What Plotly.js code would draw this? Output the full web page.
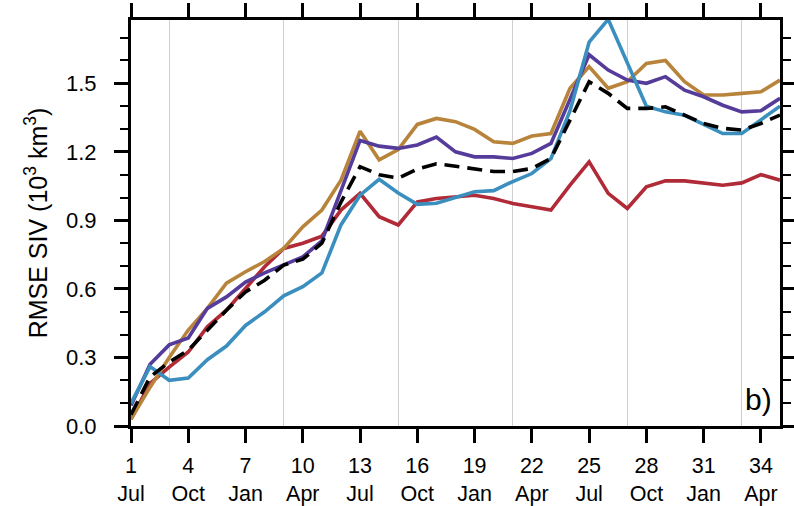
<!DOCTYPE html>
<html>
<head>
<meta charset="utf-8">
<script src="https://cdn.plot.ly/plotly-3.0.1.min.js"></script>
<style>html,body{margin:0;padding:0;background:#fff;}#chart{width:794px;height:506px;}</style>
</head>
<body>
<div id="chart"></div>
<script>
// Lead month (1 = July start)
const leadMonth = [1,2,3,4,5,6,7,8,9,10,11,12,13,14,15,16,17,18,19,20,21,22,23,24,25,26,27,28,29,30,31,32,33,34,35];
const tickValues = [1,4,7,10,13,16,19,22,25,28,31,34];
const tickMonths = ["Jul","Oct","Jan","Apr","Jul","Oct","Jan","Apr","Jul","Oct","Jan","Apr"];
const seasonGrid = [3,9,15,21,27,33];

const redSeries = [0.03,0.186,0.258,0.324,0.434,0.507,0.602,0.697,0.777,0.80,0.831,0.945,1.018,0.916,0.88,0.981,0.996,1.003,1.01,0.996,0.974,0.96,0.945,1.054,1.156,1.018,0.952,1.047,1.073,1.073,1.064,1.054,1.064,1.10,1.076];
const brownSeries = [0.03,0.17,0.30,0.42,0.515,0.625,0.675,0.72,0.777,0.872,0.945,1.076,1.29,1.165,1.21,1.32,1.346,1.332,1.298,1.244,1.237,1.269,1.28,1.478,1.573,1.478,1.507,1.587,1.60,1.507,1.449,1.449,1.456,1.463,1.514];
const purpleSeries = [0.09,0.27,0.355,0.385,0.515,0.565,0.63,0.67,0.705,0.74,0.81,1.025,1.25,1.225,1.215,1.23,1.265,1.20,1.178,1.178,1.171,1.193,1.237,1.43,1.625,1.558,1.514,1.50,1.529,1.47,1.441,1.404,1.375,1.38,1.434];
const blueSeries = [0.10,0.26,0.20,0.21,0.29,0.35,0.44,0.50,0.57,0.61,0.67,0.88,1.01,1.08,1.02,0.97,0.975,1.00,1.025,1.03,1.07,1.105,1.17,1.38,1.68,1.78,1.59,1.40,1.375,1.36,1.32,1.28,1.28,1.34,1.40];
const meanSeries = [0.05,0.215,0.28,0.332,0.419,0.507,0.587,0.638,0.704,0.73,0.80,0.98,1.135,1.10,1.085,1.125,1.148,1.138,1.127,1.114,1.114,1.127,1.171,1.339,1.507,1.456,1.39,1.39,1.397,1.361,1.324,1.303,1.295,1.324,1.361];

const tickText = tickValues.map((v, i) => v + "<br>" + tickMonths[i]);

function line(y, color, dash) {
  return {x: leadMonth, y: y, type: 'scatter', mode: 'lines',
    line: {color: color, width: 3.6, dash: dash || 'solid'}, hoverinfo: 'skip', showlegend: false};
}

const traces = [
  line(redSeries, '#b02a37'),
  line(brownSeries, '#b8843c'),
  line(purpleSeries, '#553c9a'),
  line(blueSeries, '#3b8fbf'),
  line(meanSeries, '#000000', '15px,8px')
];

const font = {family: 'Liberation Sans, Arial, sans-serif', color: '#000'};

const layout = {
  width: 794, height: 506,
  margin: {l: 131, r: 14, t: 20, b: 80},
  paper_bgcolor: '#fff', plot_bgcolor: '#fff',
  font: Object.assign({size: 21}, font),
  xaxis: {
    range: [1, 35], tickmode: 'array', tickvals: tickValues, ticktext: tickText,
    ticks: 'outside', ticklen: 14, tickwidth: 3, tickcolor: '#000',
    showline: true, linewidth: 3, linecolor: '#000', mirror: 'ticks',
    showgrid: false, zeroline: false, ticklabelstandoff: 4,
    tickfont: Object.assign({size: 21.5}, font),
    minor: {tickmode: 'array', tickvals: seasonGrid, showgrid: true, gridcolor: '#cfcfcf', gridwidth: 1.2, ticks: ''}
  },
  yaxis: {
    range: [0, 1.777], tickmode: 'linear', tick0: 0, dtick: 0.3, tickformat: '.1f',
    ticks: 'outside', ticklen: 14, tickwidth: 3, tickcolor: '#000',
    showline: true, linewidth: 3, linecolor: '#000', mirror: 'ticks',
    showgrid: false, zeroline: false, ticklabelstandoff: 13,
    tickfont: Object.assign({size: 22}, font),
    minor: {dtick: 0.1, tick0: 0, ticks: 'outside', ticklen: 8, tickwidth: 2, tickcolor: '#000', showgrid: false},
    title: {text: 'RMSE SIV (10<sup>3</sup> km<sup>3</sup>)', font: Object.assign({size: 25}, font), standoff: 12}
  },
  annotations: [{
    text: 'b)', xref: 'paper', yref: 'paper', x: 0.99, y: 0.02,
    xanchor: 'right', yanchor: 'bottom', showarrow: false,
    font: Object.assign({size: 30}, font)
  }]
};

Plotly.newPlot('chart', traces, layout, {displayModeBar: false, staticPlot: true});
</script>
</body>
</html>
